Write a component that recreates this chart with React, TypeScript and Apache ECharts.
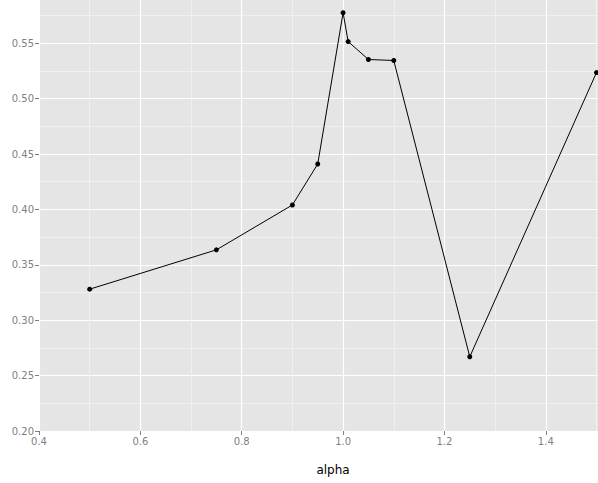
import React, { useEffect, useRef } from "react";
import * as echarts from "echarts";

const alphaValues = [0.5, 0.75, 0.9, 0.95, 1.0, 1.01, 1.05, 1.1, 1.25, 1.5];
const scoreValues = [0.328, 0.3635, 0.404, 0.441, 0.5775, 0.5515, 0.5353, 0.5344, 0.267, 0.5235];
const xAxisTitle = "alpha";

export default function App() {
  const ref = useRef<HTMLDivElement>(null);
  useEffect(() => {
    if (!ref.current) return;
    const chart = echarts.init(ref.current, undefined, { renderer: "svg" });
    const font = "DejaVu Sans";
    chart.setOption({
      animation: false,
      backgroundColor: "#FFFFFF",
      grid: {
        left: 39,
        right: 0,
        top: 0,
        bottom: 52,
        show: true,
        backgroundColor: "#E5E5E5",
        borderWidth: 0,
      },
      xAxis: {
        type: "value",
        min: 0.4,
        max: 1.503,
        interval: 0.2,
        axisLine: { show: false },
        axisTick: { show: true, length: 4, lineStyle: { color: "#7F7F7F" } },
        axisLabel: {
          margin: 5,
          color: "#7F7F7F",
          fontFamily: font,
          fontSize: 10,
          showMaxLabel: false,
          formatter: (v: number) => (Math.round(v * 10) / 10).toFixed(1),
        },
        splitLine: { show: true, showMaxLine: false, lineStyle: { color: "#FFFFFF", width: 1.2 } },
        minorTick: { show: false, splitNumber: 2 },
        minorSplitLine: { show: true, lineStyle: { color: "#F2F2F2", width: 0.8 } },
      },
      yAxis: {
        type: "value",
        min: 0.2,
        max: 0.589,
        interval: 0.05,
        axisLine: { show: false },
        axisTick: { show: true, length: 4, lineStyle: { color: "#7F7F7F" } },
        axisLabel: {
          margin: 5,
          color: "#7F7F7F",
          fontFamily: font,
          fontSize: 10,
          showMaxLabel: false,
          formatter: (v: number) => v.toFixed(2),
        },
        splitLine: { show: true, showMaxLine: false, lineStyle: { color: "#FFFFFF", width: 1.2 } },
        minorTick: { show: false, splitNumber: 2 },
        minorSplitLine: { show: true, lineStyle: { color: "#F2F2F2", width: 0.8 } },
      },
      graphic: [
        {
          type: "text",
          x: 333,
          y: 470,
          style: {
            text: xAxisTitle,
            fill: "#000000",
            font: `12px "${font}"`,
            align: "center",
            verticalAlign: "middle",
          },
        },
      ],
      series: [
        {
          type: "line",
          data: alphaValues.map((a, i) => [a, scoreValues[i]]),
          symbol: "circle",
          symbolSize: 5,
          showSymbol: true,
          itemStyle: { color: "#000000" },
          lineStyle: { color: "#000000", width: 1 },
        },
      ],
    });
    return () => chart.dispose();
  }, []);
  return (
    <div
      ref={ref}
      style={{ position: "fixed", left: 0, top: 0, width: 598, height: 483 }}
    />
  );
}
